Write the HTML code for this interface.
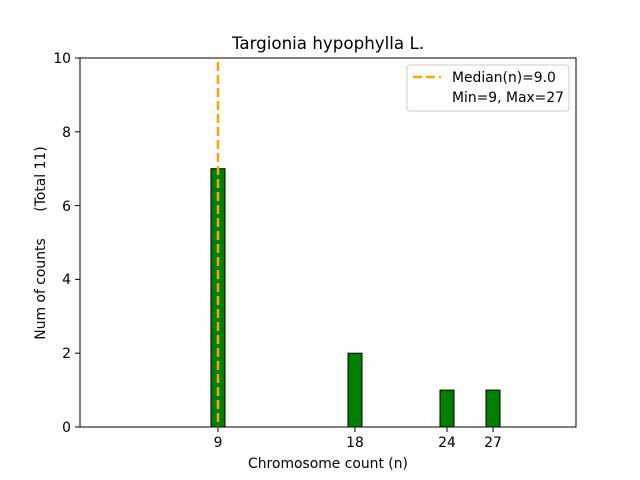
<!DOCTYPE html>
<html><head><meta charset="utf-8"><style>body{margin:0;background:#fff}svg{display:block}</style></head><body>
<svg width="640" height="480" xmlns="http://www.w3.org/2000/svg" font-family="'DejaVu Sans', 'Liberation Sans', sans-serif">
<rect width="640" height="480" fill="#fff"/>
<text x="328" y="49" font-size="16.7" text-anchor="middle">Targionia hypophylla L.</text>
<g fill="#008000" stroke="#000" stroke-width="1">
<rect x="211" y="168.7" width="14" height="258.3"/>
<rect x="348" y="353.2" width="14" height="73.8"/>
<rect x="440" y="390.1" width="14" height="36.9"/>
<rect x="486" y="390.1" width="14" height="36.9"/>
</g>
<line x1="211" y1="427" x2="547" y2="427" stroke="#000" stroke-width="1"/>
<line x1="218" y1="62" x2="218" y2="427" stroke="#FFA500" stroke-width="2.5" stroke-dasharray="9,4"/>
<rect x="80" y="58" width="496" height="369" fill="none" stroke="#000" stroke-width="1"/>
<g stroke="#000" stroke-width="1">
<line x1="75" y1="427" x2="80" y2="427"/><line x1="75" y1="353.2" x2="80" y2="353.2"/>
<line x1="75" y1="279.4" x2="80" y2="279.4"/><line x1="75" y1="205.6" x2="80" y2="205.6"/>
<line x1="75" y1="131.8" x2="80" y2="131.8"/><line x1="75" y1="58" x2="80" y2="58"/>
<line x1="218" y1="427" x2="218" y2="432"/><line x1="355" y1="427" x2="355" y2="432"/>
<line x1="447" y1="427" x2="447" y2="432"/><line x1="493" y1="427" x2="493" y2="432"/>
</g>
<g font-size="13.9" text-anchor="end">
<text x="71" y="432">0</text><text x="71" y="358">2</text><text x="71" y="284">4</text>
<text x="71" y="211">6</text><text x="71" y="137">8</text><text x="71" y="63">10</text>
</g>
<g font-size="13.9" text-anchor="middle">
<text x="218" y="447">9</text><text x="355" y="447">18</text><text x="447" y="447">24</text><text x="493" y="447">27</text>
<text x="328" y="468">Chromosome count (n)</text>
</g>
<text transform="translate(45,289) rotate(-90)" font-size="13.9" text-anchor="middle">Num of counts</text>
<text transform="translate(45,179) rotate(-90)" font-size="13.9" text-anchor="middle">(Total 11)</text>
<rect x="407" y="65" width="162" height="46" rx="3" fill="#fff" stroke="#ccc" stroke-width="1"/>
<line x1="413" y1="77" x2="441" y2="77" stroke="#FFA500" stroke-width="2.5" stroke-dasharray="9,4"/>
<text x="452" y="82" font-size="13.9">Median(n)=9.0</text>
<text x="452" y="102" font-size="13.9">Min=9, Max=27</text>
</svg>
</body></html>
